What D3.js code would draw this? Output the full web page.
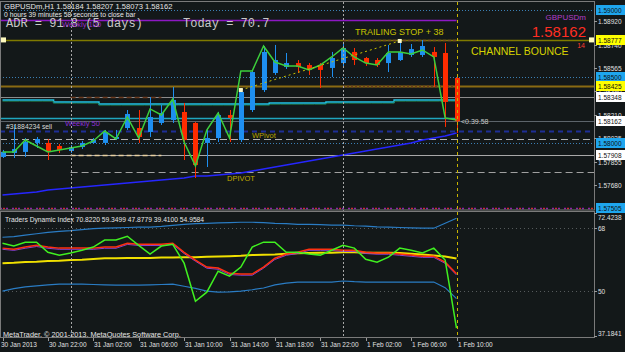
<!DOCTYPE html>
<html>
<head>
<meta charset="utf-8">
<script src="https://cdn.jsdelivr.net/npm/d3@7"></script>
<style>
  body { margin: 0; background: #131819; }
  svg { display: block; }
  text { font-family: "Liberation Sans", Arial, sans-serif; }
</style>
</head>
<body>
<svg id="chart" width="625" height="352"></svg>
<script>
// ---- data (GBPUSDm H1, 30 Jan 18:00 .. 1 Feb 10:00) ----
var opens = [1.57892,1.57922,1.57930,1.57998,1.57998,1.57975,1.57937,1.57967,1.57998,1.57998,
             1.58028,1.58111,1.58111,1.58081,1.58149,1.58171,1.58232,1.58149,1.57998,1.58035,
             1.58209,1.58020,1.58247,1.58398,1.58527,1.58572,1.58602,1.58587,1.58587,1.58565,
             1.58602,1.58686,1.58640,1.58625,1.58602,1.58625,1.58663,1.58663,1.58686,1.58678,
             1.58489];
var highs = [1.57945,1.58134,1.58035,1.58043,1.58028,1.57990,1.57982,1.58013,1.58035,1.58096,
             1.58096,1.58247,1.58247,1.58345,1.58285,1.58421,1.58300,1.58156,1.58111,1.58232,
             1.58247,1.58413,1.58550,1.58731,1.58739,1.58678,1.58625,1.58602,1.58602,1.58686,
             1.58761,1.58716,1.58648,1.58640,1.58739,1.58761,1.58746,1.58776,1.58723,1.58754,
             1.58497];
var lows = [1.57884,1.57884,1.57892,1.57960,1.57869,1.57922,1.57922,1.57952,1.57990,1.57982,
            1.58020,1.58096,1.57998,1.58043,1.58134,1.58149,1.57869,1.57733,1.57816,1.58005,
            1.58005,1.58005,1.58232,1.58383,1.58512,1.58557,1.58527,1.58512,1.58413,1.58497,
            1.58572,1.58587,1.58580,1.58572,1.58534,1.58618,1.58648,1.58648,1.58421,1.58119,
            1.58073];
var closes = [1.57930,1.57952,1.58005,1.58028,1.57937,1.57945,1.57967,1.57998,1.58020,1.58081,
              1.58043,1.58217,1.58043,1.58194,1.58224,1.58323,1.58020,1.57831,1.58035,1.58209,
              1.58187,1.58383,1.58534,1.58686,1.58625,1.58602,1.58572,1.58550,1.58550,1.58640,
              1.58716,1.58625,1.58602,1.58587,1.58678,1.58686,1.58708,1.58731,1.58648,1.58308,
              1.58162];

// green zigzag line on the price chart
var fastLine = [1.57930,1.57930,1.58020,1.57975,1.57930,1.57945,1.57960,1.57975,1.58013,1.58088,
                1.58028,1.58194,1.58035,1.58255,1.58209,1.58330,1.58005,1.57824,1.58096,1.58224,
                1.58035,1.58542,1.58542,1.58731,1.58610,1.58580,1.58580,1.58550,1.58587,1.58648,
                1.58716,1.58648,1.58602,1.58587,1.58686,1.58686,1.58670,1.58701,1.58648,1.58187,
                1.58171];
// blue slow moving average
var slowMA = [1.57604,1.57612,1.57619,1.57627,1.57642,1.57650,1.57657,1.57665,1.57672,1.57680,
              1.57688,1.57695,1.57703,1.57710,1.57718,1.57725,1.57733,1.57748,1.57748,1.57756,
              1.57763,1.57771,1.57786,1.57801,1.57816,1.57831,1.57846,1.57861,1.57877,1.57892,
              1.57907,1.57922,1.57937,1.57952,1.57967,1.57982,1.57998,1.58020,1.58035,1.58051,
              1.58073];
// cyan channel line
var channelLine = [1.58323,1.58323,1.58323,1.58323,1.58323,1.58308,1.58308,1.58308,1.58308,1.58292,
                   1.58292,1.58292,1.58292,1.58292,1.58292,1.58292,1.58292,1.58292,1.58292,1.58292,
                   1.58292,1.58292,1.58292,1.58292,1.58300,1.58300,1.58300,1.58300,1.58300,1.58308,
                   1.58308,1.58308,1.58308,1.58308,1.58308,1.58323,1.58323,1.58323,1.58323,1.58323,
                   1.58323];

// Traders Dynamic Index
var tdiUpper = [65.4,65.6,66.0,66.4,66.8,67.1,67.3,67.6,67.9,68.0,68.1,68.2,68.3,68.3,68.5,68.8,69.1,69.3,69.4,69.5,
                69.6,69.7,69.7,69.6,69.4,69.3,69.1,69.1,69.0,68.9,68.9,68.7,68.6,68.4,68.3,68.2,68.1,68.0,68.0,69.4,70.82];
var tdiLower = [50.0,50.7,51.2,51.5,51.8,52.0,52.0,52.0,51.9,51.8,51.7,51.7,51.7,51.8,51.9,52.0,51.4,50.8,50.0,49.7,
                49.8,50.0,50.4,50.9,51.8,52.3,52.6,52.6,52.6,52.6,52.9,52.7,52.6,52.6,52.6,52.6,52.6,52.6,52.6,51.0,47.88];
var tdiMid = [58.0,58.1,58.3,58.4,58.6,58.7,58.9,59.0,59.2,59.4,59.4,59.5,59.5,59.5,59.6,59.6,59.7,59.7,59.8,59.9,
              60.0,60.1,60.3,60.4,60.5,60.7,60.8,60.9,61.0,61.0,61.1,61.1,61.0,61.0,61.0,60.9,60.7,60.5,60.2,59.9,59.35];
var tdiPrice = [63.7,62.9,64.0,64.0,61.1,60.3,60.9,61.7,62.6,64.6,64.6,65.7,63.1,60.6,62.9,63.4,58.0,47.1,49.7,55.7,
                54.3,56.9,62.6,64.0,64.0,61.1,61.1,60.6,60.3,61.7,63.1,62.3,59.1,58.3,59.7,62.3,61.7,60.9,62.3,58.9,39.41];
var tdiSignal = [62.3,62.0,62.6,63.1,62.6,62.3,62.3,62.3,62.3,62.6,62.6,63.7,63.4,63.4,63.4,63.7,61.1,58.9,56.9,56.6,
                 55.1,54.9,54.9,56.9,59.4,60.6,61.1,62.0,62.0,62.0,61.7,61.7,61.1,60.9,60.9,60.6,60.3,60.0,60.0,58.3,54.96];

var timeLabels = ["30 Jan 2013","30 Jan 22:00","31 Jan 02:00","31 Jan 06:00","31 Jan 10:00","31 Jan 14:00",
                  "31 Jan 18:00","31 Jan 22:00","1 Feb 02:00","1 Feb 06:00","1 Feb 10:00"];
var priceTicks = [1.58920,1.58740,1.58565,1.58390,1.58210,1.58035,1.57855,1.57680];
var tdiTicks = [72.4238,68,50,37.1841];
var tagPrices = [1.59000,1.58777,1.58500,1.58425,1.58348,1.58162,1.58000,1.57908,1.57505];
var tagKinds  = ["round","stop","round","stop","pivot","bid","round","pivot","round"];
var roundLevels = [1.59000,1.58500,1.58000];
var daySeparators = [6,30];          // bar index of 31 Jan 00:00 and 1 Feb 00:00
var trailStop = [[21,1.58398],[35,1.58769]];
var adrLevel = 1.58928, stopLevel = 1.58777, resLevel = 1.58425, r1Level = 1.58348;
var supLevel = 1.57908, orderLevel = 1.58088, wPivot = 1.58028, dPivot = 1.57778;
var bandLevel = 1.58187, bottomLevel = 1.57505;

// ---- scales ----
var svg = d3.select("#chart");
var axisX = 594;
var x = d3.scaleLinear().domain([0, 40]).range([2.5, 456.5]);
var y = d3.scaleLinear().domain([1.57680, 1.58920]).range([185, 21]);
var yi = d3.scaleLinear().domain([37.1841, 72.4238]).range([336, 212.7]);
var lastX = x(40);

var defs = svg.append("defs");
defs.append("clipPath").attr("id", "clipMain").append("rect").attr("x", 0).attr("y", 1).attr("width", axisX).attr("height", 209);
defs.append("clipPath").attr("id", "clipInd").append("rect").attr("x", 0).attr("y", 212).attr("width", axisX).attr("height", 125);

svg.append("rect").attr("width", 625).attr("height", 352).attr("fill", "#131819");

var main = svg.append("g").attr("clip-path", "url(#clipMain)");
var ind = svg.append("g").attr("clip-path", "url(#clipInd)");

function hline(g, yy, x1, x2, color, width, dash) {
    g.append("line")
        .attr("x1", x1).attr("x2", x2)
        .attr("y1", Math.round(yy) + 0.5).attr("y2", Math.round(yy) + 0.5)
        .attr("stroke", color)
        .attr("stroke-width", width || 1)
        .attr("stroke-dasharray", dash || null);
}

// ---- main panel: levels ----
roundLevels.forEach(function(p) { hline(main, y(p), 0, axisX, "#3b7fb4", 1, "1,2"); });
hline(main, y(adrLevel), 0, lastX, "#8d18c4", 1.5);
hline(main, y(stopLevel), 0, axisX, "#7f7a00", 1.5);
hline(main, y(stopLevel), x(30), lastX, "#7a4a24", 1.5, "3,2");
hline(main, y(resLevel), 0, axisX, "#8a6a12", 2);
hline(main, y(resLevel), x(30), lastX, "#6a3e1c", 2, "2,2");
hline(main, y(r1Level), 0, axisX, "#8c8c8c", 1);
hline(main, y(r1Level), x(6), x(14), "#6b3a1e", 1.5, "5,3");
hline(main, y(bandLevel), 0, lastX, "#1fa6bf", 1.5);
hline(main, y(1.58162), 0, axisX, "#5c646a", 1);
hline(main, y(orderLevel), 0, axisX, "#1e2e96", 2, "5,4");
hline(main, y(wPivot), 0, axisX, "#b4b4b4", 1, "7,4");
hline(main, y(supLevel), 0, axisX, "#a8a8a8", 1);
hline(main, y(supLevel), x(6), x(14), "#e8cfa0", 1.5, "5,3");
hline(main, y(dPivot), x(6), axisX, "#a0a0a0", 1, "7,4");
hline(main, y(bottomLevel), 0, axisX, "#9024a8", 1.5, "2,4");
hline(main, y(bottomLevel), 3, axisX, "#d02a30", 1.5, "2,10");

// vertical separators
daySeparators.forEach(function(b) {
    svg.append("line").attr("x1", Math.round(x(b)) + 0.5).attr("x2", Math.round(x(b)) + 0.5)
        .attr("y1", 2).attr("y2", 338).attr("stroke", "#a8a8a8").attr("stroke-dasharray", "2,2");
});
svg.append("line").attr("x1", Math.round(lastX) + 0.5).attr("x2", Math.round(lastX) + 0.5)
    .attr("y1", 2).attr("y2", 338).attr("stroke", "#c8b400").attr("stroke-dasharray", "3,3");

var bars = d3.range(opens.length);

// cyan channel (with the faint green line lying on it) and slow MA
main.append("path").datum(bars)
    .attr("fill", "none").attr("stroke", "#22c4e4").attr("stroke-width", 1.5)
    .attr("d", d3.line().x(function(i) { return x(i); }).y(function(i) { return y(channelLine[i]); }).curve(d3.curveStep));
main.append("path").datum(bars)
    .attr("fill", "none").attr("stroke", "#1f7a4a").attr("stroke-width", 1).attr("opacity", 0.7)
    .attr("d", d3.line().x(function(i) { return x(i); }).y(function(i) { return y(channelLine[i]) + 1.5; }).curve(d3.curveStep));
main.append("path").datum(bars)
    .attr("fill", "none").attr("stroke", "#2626ff").attr("stroke-width", 1.5)
    .attr("d", d3.line().x(function(i) { return x(i); }).y(function(i) { return y(slowMA[i]); }));

// candles
main.selectAll(".wick").data(bars).join("line")
    .attr("class", "wick")
    .attr("x1", function(i) { return Math.round(x(i)) + 0.5; })
    .attr("x2", function(i) { return Math.round(x(i)) + 0.5; })
    .attr("y1", function(i) { return y(highs[i]); })
    .attr("y2", function(i) { return y(lows[i]); })
    .attr("stroke", function(i) { return closes[i] >= opens[i] ? "#1e8ff0" : "#ff2c00"; });
main.selectAll(".body").data(bars).join("rect")
    .attr("class", "body")
    .attr("x", function(i) { return Math.round(x(i)) - 2; })
    .attr("width", 5)
    .attr("y", function(i) { return y(Math.max(opens[i], closes[i])); })
    .attr("height", function(i) { return Math.max(1, Math.abs(y(opens[i]) - y(closes[i]))); })
    .attr("fill", function(i) { return closes[i] >= opens[i] ? "#1e8ff0" : "#ff2c00"; });

// green line
main.append("path").datum(bars)
    .attr("fill", "none").attr("stroke", "#3ccf3c").attr("stroke-width", 1.5)
    .attr("d", d3.line().x(function(i) { return x(i); }).y(function(i) { return y(fastLine[i]); }));

// trailing stop
main.append("line")
    .attr("x1", x(trailStop[0][0])).attr("y1", y(trailStop[0][1]))
    .attr("x2", x(trailStop[1][0])).attr("y2", y(trailStop[1][1]))
    .attr("stroke", "#c8c000").attr("stroke-dasharray", "2,3");
var squares = [[trailStop[0][0], trailStop[0][1]], [trailStop[1][0], trailStop[1][1]]];
main.selectAll(".sq").data(squares).join("rect")
    .attr("x", function(d) { return x(d[0]) - 2; }).attr("y", function(d) { return y(d[1]) - 2; })
    .attr("width", 4).attr("height", 4).attr("fill", "#fbf6c8");
[1, axisX - 5].forEach(function(px) {
    main.append("rect").attr("x", px).attr("y", y(stopLevel) - 2.5).attr("width", 5).attr("height", 5).attr("fill", "#fffbc0");
});

// main panel texts
function label(txt, px, py, size, color, anchor, family) {
    svg.append("text").attr("x", px).attr("y", py).attr("font-size", size).attr("fill", color)
        .attr("text-anchor", anchor || "start")
        .style("font-family", family || null)
        .text(txt);
}
label("GBPUSDm,H1  1.58184 1.58207 1.58073 1.58162", 4, 9, 7.6, "#e6e6e6");
label("0 hours 39 minutes 58 seconds to close bar", 4, 17, 6.8, "#e6e6e6");
label("ADR = 91.8 (5 days)", 6, 27, 12, "#c8c8c8", "start", "'Liberation Mono', monospace");
label("Today = 70.7", 183, 27, 12, "#c8c8c8", "start", "'Liberation Mono', monospace");
label("Weekly 100", 62, 27, 7.5, "#9a2cc8");
label("TRAILING STOP + 38", 355, 35, 9, "#c8c400");
label("CHANNEL BOUNCE", 471, 55, 10.5, "#d6d200");
label("GBPUSDm", 586, 20, 8, "#b43cc8", "end");
label("1.58162", 586, 37, 15, "#ff2e22", "end");
label("14", 585, 48, 7, "#ff3a30", "end");
label("Weekly 50", 65, 126, 7.5, "#8a2ed4");
label("#31884234 sell", 6, 129, 6.8, "#d8d8d8");
label("WPivot", 252, 138, 7.5, "#b8a400");
label("DPIVOT", 227, 181, 7.5, "#c0aa00");
label("<0.39.58", 461, 124, 7, "#c8c8c8");

// ---- indicator panel ----
[68, 50].forEach(function(v) { hline(ind, yi(v), 0, axisX, "#555a5c", 1, "1,3"); });
function indLine(data, color, width, dy) {
    ind.append("path").datum(bars)
        .attr("fill", "none").attr("stroke", color).attr("stroke-width", width)
        .attr("d", d3.line().x(function(i) { return x(i); }).y(function(i) { return yi(data[i]) + (dy || 0); }));
}
indLine(tdiUpper, "#2a7cc4", 1.2);
indLine(tdiLower, "#2a7cc4", 1.2);
indLine(tdiMid, "#f0e000", 2);
indLine(tdiSignal, "#8a40d0", 1, 1.2);
indLine(tdiSignal, "#ff3010", 1.5);
indLine(tdiPrice, "#40f020", 1.5);

label("Traders Dynamic Index 70.8220 59.3499 47.8779 39.4100 54.9584", 5, 222, 6.7, "#e6e6e6");
label("MetaTrader, \u00a9 2001-2013, MetaQuotes Software Corp.", 3, 337, 7.3, "#e6e6e6");

// ---- frames ----
svg.append("rect").attr("x", 0.5).attr("y", 1.5).attr("width", axisX).attr("height", 208.5)
    .attr("fill", "none").attr("stroke", "#7a7a7a");
svg.append("rect").attr("x", 0.5).attr("y", 211.5).attr("width", axisX).attr("height", 126)
    .attr("fill", "none").attr("stroke", "#7a7a7a");

// ---- right axis ----
priceTicks.forEach(function(p) {
    var py = Math.round(y(p)) + 0.5;
    svg.append("line").attr("x1", axisX).attr("x2", axisX + 3).attr("y1", py).attr("y2", py).attr("stroke", "#999");
    label(p.toFixed(5), 598, py + 2.5, 6.5, "#e0e0e0");
});
var tagFill = { round: "#1ea6ee", stop: "#ffff00", pivot: "#ffffff", bid: "#ffffff" };
tagPrices.forEach(function(p, k) {
    var py = y(p);
    svg.append("rect").attr("x", 596).attr("y", Math.round(py) - 5).attr("width", 29).attr("height", 10)
        .attr("fill", tagFill[tagKinds[k]]);
    label(p.toFixed(5), 598, Math.round(py) + 2.5, 6.5, "#101010");
});
tdiTicks.forEach(function(v) {
    var py = Math.max(217, Math.min(333, yi(v)));
    svg.append("line").attr("x1", axisX).attr("x2", axisX + 3).attr("y1", Math.round(yi(v)) + 0.5)
        .attr("y2", Math.round(yi(v)) + 0.5).attr("stroke", "#999");
    label(Number.isInteger(v) ? String(v) : v.toFixed(4), 598, py + 2.5, 6.5, "#e0e0e0");
});

// ---- time axis ----
timeLabels.forEach(function(t, k) {
    var px = Math.round(x(k * 4));
    svg.append("line").attr("x1", px + 0.5).attr("x2", px + 0.5).attr("y1", 338).attr("y2", 341).attr("stroke", "#999");
    label(t, k === 0 ? 1 : px + 1, 347, 6.5, "#e0e0e0");
});
</script>
</body>
</html>
